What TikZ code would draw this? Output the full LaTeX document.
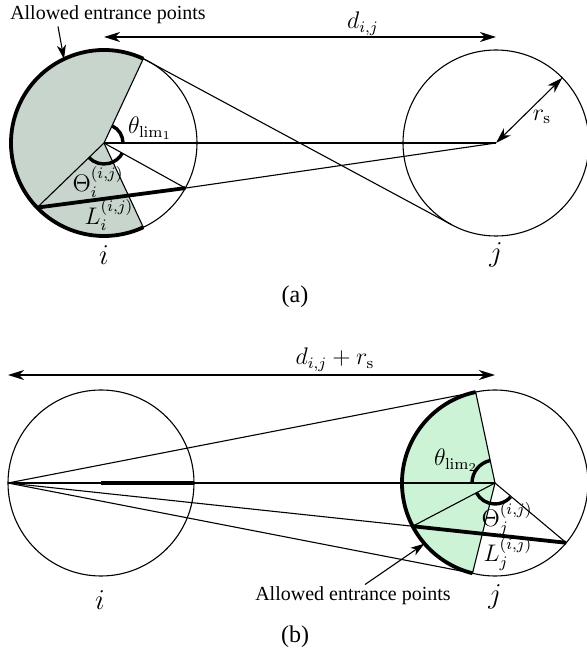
\documentclass[tikz,border=0pt]{standalone}
\usepackage{amsmath,amssymb}
\usepackage[no-math]{fontspec}
\setmainfont{Liberation Serif}
\usetikzlibrary{arrows.meta,calc}

\definecolor{regiongray}{RGB}{199,213,204}
\definecolor{regiongreen}{RGB}{205,243,214}
\newcommand{\crad}{93}

\begin{document}
\begin{tikzpicture}[
  x=0.5pt, y=0.5pt,
  thinline/.style={line width=0.55pt},
  thickline/.style={line width=1.9pt},
  anglemark/.style={line width=1.7pt},
  dimarrow/.style={{Stealth[length=8pt,width=5pt,inset=2.5pt]}-{Stealth[length=8pt,width=5pt,inset=2.5pt]}, line width=0.55pt},
  pointer/.style={-{Stealth[length=7pt,width=4.5pt,inset=2pt]}, line width=0.55pt},
  lbl/.style={inner sep=1pt, font=\large},
  cname/.style={inner sep=1pt, font=\Large},
  caption/.style={inner sep=1pt, font=\large},
]
\useasboundingbox (0,0) rectangle (587,655);
% --- panel (a): points on the circles ---
\coordinate (ia) at (104,512);
\coordinate (ja) at (496,512);
\coordinate (topa) at ([shift={(65:\crad)}]ia);
\coordinate (bota) at ([shift={(295:\crad)}]ia);
\coordinate (chla) at ([shift={(224:\crad)}]ia);
\coordinate (chra) at ([shift={(331:\crad)}]ia);
\coordinate (tana) at ([shift={(241.7:\crad)}]ja);
\coordinate (rima) at ([shift={(44.5:\crad)}]ja);
\coordinate (enta) at ([shift={(115.5:\crad)}]ia);
% --- panel (a): region and circles ---
\fill[regiongray] (ia) -- (topa) arc[start angle=65, end angle=295, radius=\crad] -- cycle;
\draw[thinline] (ia) circle[radius=\crad];
\draw[thinline] (ja) circle[radius=\crad];
\draw[thickline] (topa) arc[start angle=65, end angle=295, radius=\crad];
% --- panel (a): lines ---
\draw[thinline] (ia) -- (topa);
\draw[thinline] (ia) -- (bota);
\draw[thinline] (ia) -- (chla);
\draw[thinline] (ia) -- (chra);
\draw[thinline] (ia) -- (ja);
\draw[thinline] (topa) -- (tana);
\draw[thinline] (chra) -- (ja);
\draw[thickline] (chla) -- (chra);
\draw[anglemark] ([shift={(0:19)}]ia) arc[start angle=0, end angle=65, radius=19];
\draw[anglemark] ([shift={(224:21)}]ia) arc[start angle=224, end angle=331, radius=21];
\draw[dimarrow] (ja) -- (rima);
\draw[dimarrow] (ia |- 0,618) -- (ja |- 0,618);
% --- panel (a): labels ---
\node[lbl] (dija) at (363,631) {$d_{i,j}$};
\node[lbl] (rsa) at (542,538) {$r_{\mathrm{s}}$};
\node[lbl] (thlima) at (150,527) {$\theta_{\mathrm{lim}_1}$};
\node[lbl] (Thia) at (98,473) {$\Theta_i^{(i,j)}$};
\node[lbl] (Lia) at (109,440) {$L_i^{(i,j)}$};
\node[cname] (namei) at (104,400) {$i$};
\node[cname] (namej) at (496,400) {$j$};
\node[inner sep=1pt] (allowa) at (108,640) {Allowed entrance points};
\draw[pointer] ([xshift=-25pt]allowa.south) -- (enta);
\node[caption] (capa) at (295,358) {(a)};
% --- panel (b): points on the circles ---
\coordinate (ib) at (101,172);
\coordinate (jb) at (495,172);
\coordinate (leftb) at ([shift={(180:\crad)}]ib);
\coordinate (rightb) at ([shift={(0:\crad)}]ib);
\coordinate (topb) at ([shift={(102:\crad)}]jb);
\coordinate (botb) at ([shift={(256:\crad)}]jb);
\coordinate (chlb) at ([shift={(207.7:\crad)}]jb);
\coordinate (chrb) at ([shift={(320:\crad)}]jb);
\coordinate (entb) at ([shift={(220.7:\crad)}]jb);
% --- panel (b): region and circles ---
\fill[regiongreen] (jb) -- (topb) arc[start angle=102, end angle=256, radius=\crad] -- cycle;
\draw[thinline] (ib) circle[radius=\crad];
\draw[thinline] (jb) circle[radius=\crad];
\draw[thickline] (topb) arc[start angle=102, end angle=256, radius=\crad];
% --- panel (b): lines ---
\draw[thinline] (leftb) -- (topb);
\draw[thinline] (leftb) -- (jb);
\draw[thinline] (leftb) -- (chlb);
\draw[thinline] (leftb) -- (botb);
\draw[thinline] (jb) -- (topb);
\draw[thinline] (jb) -- (botb);
\draw[thinline] (jb) -- (chlb);
\draw[thinline] (jb) -- (chrb);
\draw[thickline] (ib) -- (rightb);
\draw[thickline] (chlb) -- (chrb);
\draw[anglemark] ([shift={(102:23)}]jb) arc[start angle=102, end angle=180, radius=23];
\draw[anglemark] ([shift={(208:21)}]jb) arc[start angle=208, end angle=318, radius=21];
\draw[dimarrow] (leftb |- 0,280) -- (jb |- 0,280);
% --- panel (b): labels ---
\node[lbl] (dijb) at (335,295) {$d_{i,j}+r_{\mathrm{s}}$};
\node[lbl] (thlimb) at (456,195) {$\theta_{\mathrm{lim}_2}$};
\node[lbl] (Thjb) at (507,136) {$\Theta_j^{(i,j)}$};
\node[lbl] (Ljb) at (508,101) {$L_j^{(i,j)}$};
\node[cname] (nameib) at (100,55) {$i$};
\node[cname] (namejb) at (495,58) {$j$};
\node[inner sep=1pt] (allowb) at (353,59) {Allowed entrance points};
\draw[pointer] ([xshift=6pt]allowb.north) -- (entb);
\node[caption] (capb) at (295,18) {(b)};
\end{tikzpicture}
\end{document}
